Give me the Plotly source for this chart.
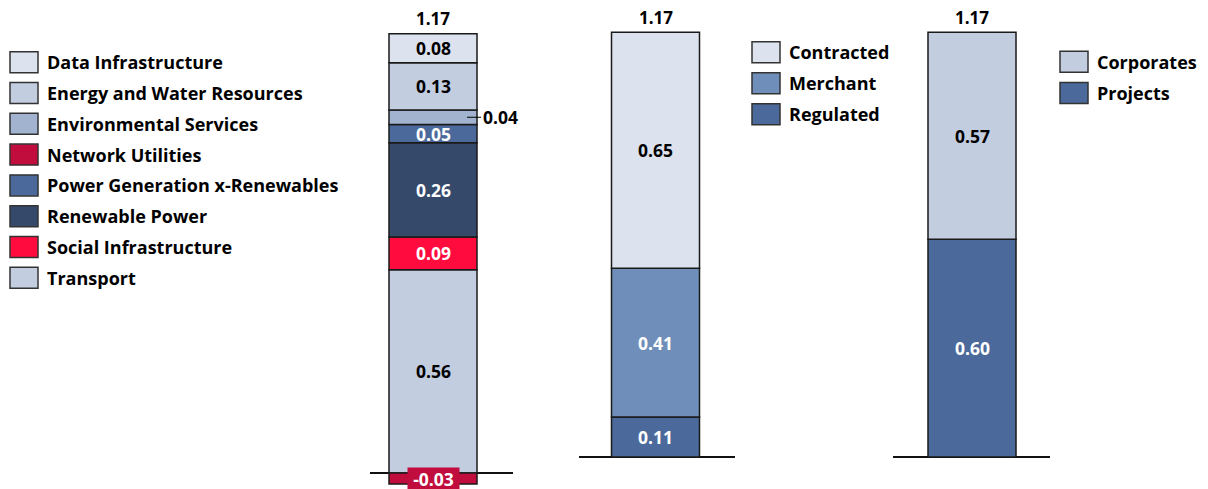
import plotly.graph_objects as go

# ---------------- data ----------------
sector_names = ["Data Infrastructure", "Energy and Water Resources", "Environmental Services",
                "Network Utilities", "Power Generation x-Renewables", "Renewable Power",
                "Social Infrastructure", "Transport"]
sector_values = [0.08, 0.13, 0.04, -0.03, 0.05, 0.26, 0.09, 0.56]
sector_stack = ["Transport", "Social Infrastructure", "Renewable Power",
                "Power Generation x-Renewables", "Environmental Services",
                "Energy and Water Resources", "Data Infrastructure", "Network Utilities"]

contract_names = ["Contracted", "Merchant", "Regulated"]
contract_values = [0.65, 0.41, 0.11]
contract_stack = ["Regulated", "Merchant", "Contracted"]

finance_names = ["Corporates", "Projects"]
finance_values = [0.57, 0.60]
finance_stack = ["Projects", "Corporates"]

totals = [1.17, 1.17, 1.17]

# ---------------- styles ----------------
colors = {
    "Data Infrastructure": "#DDE3EE", "Energy and Water Resources": "#C3CDE0",
    "Environmental Services": "#A2B3CF", "Network Utilities": "#C00D3E",
    "Power Generation x-Renewables": "#4B6A9B", "Renewable Power": "#35496B",
    "Social Infrastructure": "#FF0B3D", "Transport": "#C3CDE0",
    "Contracted": "#DDE3EE", "Merchant": "#6F8FBA", "Regulated": "#4B6A9B",
    "Corporates": "#C3CDE0", "Projects": "#4B6A9B",
}
white_text = {"Network Utilities", "Power Generation x-Renewables", "Renewable Power",
              "Social Infrastructure", "Merchant", "Regulated", "Projects"}

FONT = "Open Sans"
FS_LEG = 18
FS_VAL = 17.5
FS_TOT = 17
W, H = 1208, 489
SCALE = 363.0  # px per unit
BAR_PX = 88.0

panels = [
    dict(names=sector_names, values=sector_values, stack=sector_stack, ax="x", ay="y",
         dom=(370, 513), center=433, zero=473, legend=(10, 45, 62.2, 30.8)),
    dict(names=contract_names, values=contract_values, stack=contract_stack, ax="x2", ay="y2",
         dom=(579, 735), center=655.5, zero=457, legend=(752, 787, 52.2, 31.0)),
    dict(names=finance_names, values=finance_values, stack=finance_stack, ax="x3", ay="y3",
         dom=(893, 1050), center=972, zero=457, legend=(1060, 1095, 61.8, 31.3)),
]

fig = go.Figure()
annotations = []
shapes = []
layout_axes = {}

for i, p in enumerate(panels):
    vals = dict(zip(p["names"], p["values"]))
    for name in p["stack"]:
        fig.add_trace(go.Bar(
            x=[0], y=[vals[name]], name=name, width=1.0,
            marker=dict(color=colors[name], line=dict(color="#1a1a1a", width=1.5)),
            xaxis=p["ax"], yaxis=p["ay"], showlegend=False, hoverinfo="skip",
        ))
    # segment labels
    pos = 0.0
    neg = 0.0
    xref = p["ax"]
    yref = p["ay"]
    for name in p["stack"]:
        v = vals[name]
        if v >= 0:
            mid = pos + v / 2
            pos += v
        else:
            mid = neg + v / 2
            neg += v
        col = "white" if name in white_text else "black"
        label = f"<b>{v:.2f}</b>"
        if name == "Environmental Services":
            annotations.append(dict(
                x=(467 - p["center"]) / BAR_PX, y=mid, xref=xref, yref=yref,
                text=label, showarrow=True, arrowhead=0, arrowwidth=1, arrowcolor="black",
                ax=33, ay=0, font=dict(family=FONT, size=FS_VAL, color="black")))
        elif v < 0:
            annotations.append(dict(
                x=0, y=mid, xref=xref, yref=yref, text=label, showarrow=False,
                bgcolor=colors[name], borderpad=0, width=51, height=21,
                font=dict(family=FONT, size=FS_VAL, color="white")))
        else:
            annotations.append(dict(
                x=0, y=mid, xref=xref, yref=yref, text=label, showarrow=False,
                font=dict(family=FONT, size=FS_VAL, color=col)))
    # total label
    annotations.append(dict(
        x=0, y=pos, xref=xref, yref=yref, text=f"<b>{totals[i]:.2f}</b>",
        showarrow=False, yanchor="middle", yshift=15,
        font=dict(family=FONT, size=FS_TOT, color="black")))

    # axes
    d0, d1 = p["dom"]
    xr = [-(p["center"] - d0) / BAR_PX, (d1 - p["center"]) / BAR_PX]
    yr = [-(H - p["zero"]) / SCALE, p["zero"] / SCALE]
    suffix = "" if i == 0 else str(i + 1)
    layout_axes["xaxis" + suffix] = dict(domain=[d0 / W, d1 / W], range=xr, visible=False,
                                         anchor=p["ay"], fixedrange=True)
    layout_axes["yaxis" + suffix] = dict(domain=[0, 1], range=yr, anchor=p["ax"],
                                         showticklabels=False, showgrid=False, showline=False,
                                         ticks="", zeroline=True, zerolinecolor="#111111",
                                         zerolinewidth=1.5, fixedrange=True)

    # custom legend
    sx, tx, y0, step = p["legend"]
    for k, name in enumerate(p["names"]):
        yc = y0 + k * step
        shapes.append(dict(type="rect", xref="paper", yref="paper",
                           x0=sx / W, x1=(sx + 28) / W,
                           y0=1 - (yc + 10.5) / H, y1=1 - (yc - 10.5) / H,
                           fillcolor=colors[name], line=dict(color="#333333", width=1.5)))
        annotations.append(dict(x=tx / W, y=1 - yc / H, xref="paper", yref="paper",
                                xanchor="left", yanchor="middle", showarrow=False,
                                text=f"<b>{name}</b>",
                                font=dict(family=FONT, size=FS_LEG, color="black")))

fig.update_layout(
    width=W, height=H, margin=dict(l=0, r=0, t=0, b=0),
    paper_bgcolor="white", plot_bgcolor="white",
    barmode="relative", showlegend=False,
    annotations=annotations, shapes=shapes,
    **layout_axes,
)

fig.write_html("out.html", config={"displayModeBar": False})
